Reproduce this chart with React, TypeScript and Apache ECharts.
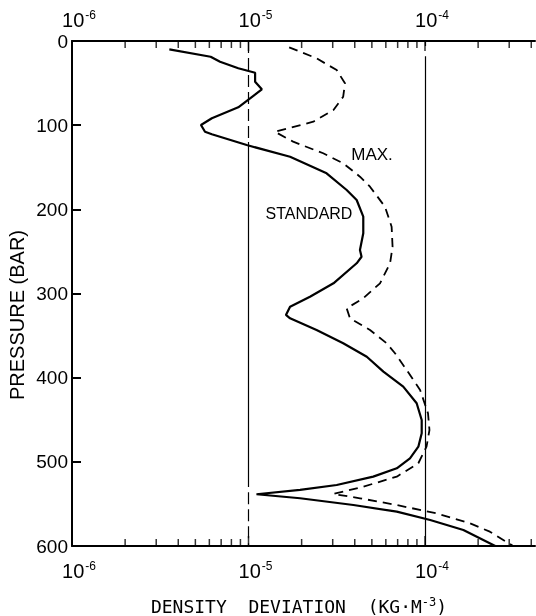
import React, { useEffect, useRef } from 'react';
import * as echarts from 'echarts';

// STANDARD curve (solid): pressure (bar) and density deviation (kg/m^3)
const standardPressure = [9.9, 18.7, 24.6, 32.4, 37.7, 48.4, 57.4, 78.8, 91.8, 99.8, 107.8, 110.8, 123.6, 137.5, 157.2, 177, 188.9, 208.7, 228.5, 248.3, 256.3, 264.1, 287.9, 303.8, 315.7, 325.5, 329.5, 343.4, 359.2, 375.1, 392.9, 410.7, 430.4, 450.3, 466.1, 482, 495.8, 507.7, 517.6, 527.5, 533.4, 538.5, 543.3, 551.3, 559.2, 569.1, 581, 600];
const standardDensity = [3.56e-6, 6.1e-6, 6.9e-6, 8.75e-6, 1.09e-5, 1.09e-5, 1.19e-5, 8.75e-6, 6.2e-6, 5.38e-6, 5.67e-6, 6.2e-6, 9.77e-6, 1.72e-5, 2.77e-5, 3.6e-5, 4.1e-5, 4.47e-5, 4.47e-5, 4.28e-5, 4.37e-5, 4.1e-5, 3.03e-5, 2.23e-5, 1.72e-5, 1.63e-5, 1.72e-5, 2.43e-5, 3.44e-5, 4.68e-5, 5.81e-5, 7.53e-5, 8.97e-5, 9.58e-5, 9.58e-5, 9.17e-5, 8.22e-5, 6.92e-5, 5.09e-5, 3.16e-5, 1.96e-5, 1.11e-5, 1.96e-5, 3.93e-5, 6.92e-5, 1.07e-4, 1.65e-4, 2.5e-4];

// MAX. curve (dashed)
const maxPressure = [7.5, 20.6, 34.5, 50.3, 66.2, 82, 95.9, 107.8, 119.6, 133.4, 145.3, 161.2, 173.1, 196.9, 220.6, 244.4, 264.1, 287.9, 305.7, 317.6, 329.5, 343.4, 359.2, 371, 390.9, 414.6, 442.3, 462.2, 482, 501.7, 517.6, 529.5, 538.2, 543.3, 551.3, 561.2, 573, 583, 600];
const maxDensity = [1.7e-5, 2.43e-5, 3.16e-5, 3.52e-5, 3.44e-5, 3.03e-5, 2.33e-5, 1.41e-5, 1.79e-5, 2.65e-5, 3.44e-5, 4.28e-5, 4.88e-5, 5.93e-5, 6.47e-5, 6.55e-5, 6.34e-5, 5.56e-5, 4.47e-5, 3.6e-5, 3.76e-5, 4.88e-5, 6.07e-5, 6.76e-5, 7.87e-5, 9.38e-5, 1.04e-4, 1.06e-4, 1.02e-4, 9.17e-5, 6.92e-5, 4.47e-5, 3.03e-5, 4.28e-5, 6.92e-5, 1.16e-4, 1.8e-4, 2.33e-4, 3.16e-4];

// Axes
const xMin = 1e-6;
const xMax = 4.2e-4;
const yMin = 0;
const yMax = 600;
const yStep = 100;
const majorTicks = [1e-5, 1e-4];
const minorTicks = [2e-6, 3e-6, 4e-6, 5e-6, 6e-6, 7e-6, 8e-6, 9e-6, 2e-5, 3e-5, 4e-5, 5e-5, 6e-5, 7e-5, 8e-5, 9e-5, 2e-4, 3e-4, 4e-4];
const referenceLines = [1e-5, 1e-4];

const xTitle = 'DENSITY  DEVIATION  (KG·M{sup|-3})';
const yTitle = 'PRESSURE (BAR)';
const standardLabel = 'STANDARD';
const maxLabel = 'MAX.';

const FONT = '"Liberation Sans", Arial, sans-serif';

function powLabel(v: number): string {
  const e = Math.log10(v);
  const r = Math.round(e);
  if (Math.abs(e - r) > 1e-6) return '';
  return '{base|10}{sup|' + r + '}';
}

const labelRich = {
  base: { fontSize: 20, fontFamily: FONT, color: '#000', padding: [0, 0, 0, 14] },
  sup: { fontSize: 12, fontFamily: FONT, color: '#000', verticalAlign: 'top', padding: [0, 0, 10, 1] },
};

export default function App() {
  const ref = useRef<HTMLDivElement>(null);
  useEffect(() => {
    if (!ref.current) return;
    const chart = echarts.init(ref.current, undefined, { renderer: 'svg' });
    const xAxisCommon = {
      type: 'log',
      logBase: 10,
      min: xMin,
      max: xMax,
      splitLine: { show: false },
      axisTick: { show: false },
      axisLine: { show: true, onZero: false, lineStyle: { color: '#000', width: 2 } },
      axisLabel: {
        formatter: (v: number) => powLabel(v),
        rich: labelRich,
        showMaxLabel: false,
      },
    };
    const tickData = (y: number) => minorTicks.map((v) => [v, y]);
    const majorData = (y: number) => majorTicks.map((v) => [v, y]);
    const tickSeries = (data: number[][], h: number, dir: number) => ({
      type: 'scatter',
      data,
      symbol: 'rect',
      symbolSize: [1.5, h],
      symbolOffset: [0, (dir * h) / 2],
      itemStyle: { color: '#000' },
      clip: false,
      silent: true,
      z: 5,
    });
    const thin = { type: 'solid', color: '#000', width: 1.2 };
    const dashed = { type: [12, 5], color: '#000', width: 1.2 };

    chart.setOption({
      animation: false,
      grid: { left: 72, right: 1, top: 41, bottom: 70, containLabel: false },
      xAxis: [
        { ...xAxisCommon, position: 'bottom', axisLabel: { ...xAxisCommon.axisLabel, margin: 14 } },
        { ...xAxisCommon, position: 'top', axisLabel: { ...xAxisCommon.axisLabel, margin: 10 } },
      ],
      yAxis: [
        {
          type: 'value',
          inverse: true,
          min: yMin,
          max: yMax,
          interval: yStep,
          position: 'left',
          splitLine: { show: false },
          axisLine: { show: true, onZero: false, lineStyle: { color: '#000', width: 2 } },
          axisTick: { show: true, inside: true, length: 9, lineStyle: { color: '#000', width: 2 } },
          axisLabel: { show: true, fontSize: 19, fontFamily: FONT, color: '#000', margin: 4 },
        },
      ],
      series: [
        {
          name: 'STANDARD',
          type: 'line',
          xAxisIndex: 0,
          yAxisIndex: 0,
          data: standardDensity.map((v, i) => [v, standardPressure[i]]),
          symbol: 'none',
          lineStyle: { color: '#000', width: 2.2 },
          clip: false,
          markLine: {
            silent: true,
            symbol: 'none',
            label: { show: false },
            data: [
              [{ coord: [referenceLines[0], 0], lineStyle: dashed }, { coord: [referenceLines[0], 120] }],
              [{ coord: [referenceLines[0], 120], lineStyle: thin }, { coord: [referenceLines[0], 530] }],
              [{ coord: [referenceLines[0], 536], lineStyle: dashed }, { coord: [referenceLines[0], 600] }],
              [{ coord: [referenceLines[1], 0], lineStyle: thin }, { coord: [referenceLines[1], 6] }],
              [{ coord: [referenceLines[1], 18], lineStyle: thin }, { coord: [referenceLines[1], 600] }],
            ],
          },
        },
        {
          name: 'MAX.',
          type: 'line',
          xAxisIndex: 0,
          yAxisIndex: 0,
          data: maxDensity.map((v, i) => [v, maxPressure[i]]),
          symbol: 'none',
          lineStyle: { color: '#000', width: 1.8, type: [9, 6] },
          clip: false,
        },
        tickSeries(tickData(yMin), 7, 1),
        tickSeries(tickData(yMax), 7, -1),
        tickSeries(majorData(yMin), 10, 1),
        tickSeries(majorData(yMax), 10, -1),
      ],
      graphic: [
        {
          type: 'text',
          x: 372,
          y: 154,
          style: { text: maxLabel, font: '17px ' + FONT, fill: '#000', textAlign: 'center', textVerticalAlign: 'middle' },
        },
        {
          type: 'text',
          x: 309,
          y: 213,
          style: { text: standardLabel, font: '16px ' + FONT, fill: '#000', textAlign: 'center', textVerticalAlign: 'middle' },
        },
        {
          type: 'text',
          x: 17,
          y: 315,
          rotation: Math.PI / 2,
          style: { text: yTitle, font: '20px ' + FONT, fill: '#000', textAlign: 'center', textVerticalAlign: 'middle' },
        },
        {
          type: 'text',
          x: 299,
          y: 606,
          style: {
            text: xTitle,
            font: '18px "DejaVu Sans Mono", monospace',
            fill: '#000',
            textAlign: 'center',
            textVerticalAlign: 'middle',
            rich: {
              sup: { font: '12px "DejaVu Sans Mono", monospace', fill: '#000', verticalAlign: 'top', padding: [0, 0, 8, 0] },
            },
          },
        },
      ],
    });
    return () => chart.dispose();
  }, []);
  return <div ref={ref} style={{ position: 'fixed', left: 0, top: 0, width: 536, height: 616 }} />;
}
